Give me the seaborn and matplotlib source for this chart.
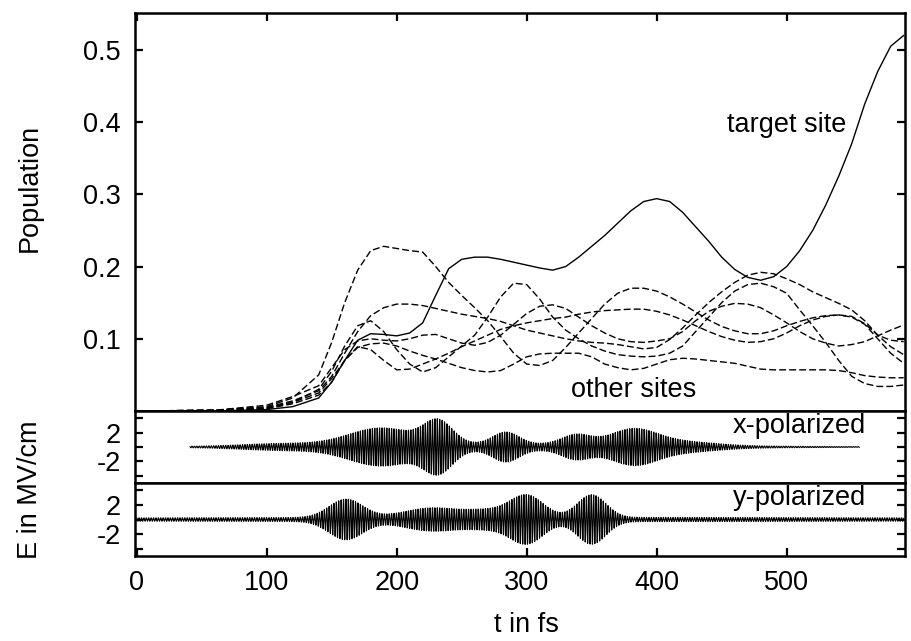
import numpy as np
import pandas as pd
import matplotlib
matplotlib.use("Agg")
import matplotlib.pyplot as plt
import seaborn as sns

# ---------------- data ----------------
t_pop = [0, 60, 100, 120, 140, 150, 160, 170, 180, 190, 200, 210, 220, 230, 240, 250,
         260, 270, 280, 290, 300, 310, 320, 330, 340, 350, 360, 370, 380, 390, 400, 410,
         420, 430, 440, 450, 460, 470, 480, 490, 500, 510, 520, 530, 540, 550, 560, 570,
         580, 590]

target_site = [0, 0.0, 0.002, 0.006, 0.018, 0.04, 0.07, 0.098, 0.107, 0.106, 0.104, 0.108,
               0.122, 0.16, 0.197, 0.21, 0.213, 0.213, 0.21, 0.206, 0.202, 0.198, 0.195, 0.2,
               0.213, 0.228, 0.243, 0.26, 0.277, 0.29, 0.294, 0.29, 0.275, 0.255, 0.235, 0.213,
               0.196, 0.185, 0.181, 0.186, 0.2, 0.222, 0.25, 0.285, 0.325, 0.37, 0.425, 0.47,
               0.505, 0.52]

site_a = [0, 0.001, 0.006, 0.018, 0.05, 0.095, 0.15, 0.195, 0.222, 0.228, 0.225, 0.222, 0.22,
          0.2, 0.178, 0.16, 0.143, 0.125, 0.103, 0.08, 0.065, 0.063, 0.07, 0.088, 0.108, 0.128,
          0.148, 0.163, 0.17, 0.17, 0.166, 0.158, 0.148, 0.137, 0.126, 0.117, 0.111, 0.107,
          0.107, 0.111, 0.118, 0.124, 0.129, 0.132, 0.133, 0.131, 0.121, 0.105, 0.089, 0.078]

site_b = [0, 0.001, 0.004, 0.012, 0.03, 0.055, 0.09, 0.118, 0.125, 0.11, 0.085, 0.065, 0.054,
          0.06, 0.075, 0.09, 0.105, 0.13, 0.158, 0.177, 0.175, 0.155, 0.13, 0.112, 0.1, 0.09,
          0.083, 0.078, 0.076, 0.075, 0.076, 0.08, 0.09, 0.11, 0.13, 0.15, 0.166, 0.175, 0.177,
          0.172, 0.163, 0.14, 0.118, 0.095, 0.07, 0.048, 0.038, 0.034, 0.034, 0.036]

site_c = [0, 0.001, 0.005, 0.014, 0.028, 0.048, 0.08, 0.11, 0.132, 0.143, 0.148, 0.148,
          0.146, 0.142, 0.138, 0.134, 0.131, 0.128, 0.124, 0.118, 0.112, 0.108, 0.104, 0.1,
          0.097, 0.095, 0.094, 0.092, 0.089, 0.086, 0.088, 0.099, 0.115, 0.133, 0.15, 0.165,
          0.178, 0.188, 0.192, 0.19, 0.183, 0.175, 0.165, 0.157, 0.149, 0.14, 0.125, 0.105,
          0.098, 0.096]

site_d = [0, 0.001, 0.008, 0.02, 0.035, 0.06, 0.085, 0.097, 0.1, 0.098, 0.097, 0.1, 0.105,
          0.106, 0.1, 0.094, 0.091, 0.095, 0.105, 0.12, 0.135, 0.145, 0.147, 0.142, 0.13,
          0.118, 0.108, 0.1, 0.096, 0.095, 0.097, 0.1, 0.11, 0.125, 0.138, 0.145, 0.149,
          0.148, 0.143, 0.133, 0.122, 0.11, 0.1, 0.094, 0.09, 0.092, 0.096, 0.104, 0.112, 0.119]

site_e = [0, 0.0, 0.003, 0.01, 0.022, 0.04, 0.07, 0.089, 0.085, 0.07, 0.057, 0.058, 0.065,
          0.072, 0.08, 0.089, 0.097, 0.105, 0.113, 0.118, 0.122, 0.125, 0.128, 0.13, 0.134,
          0.137, 0.139, 0.14, 0.141, 0.141, 0.138, 0.133, 0.126, 0.118, 0.11, 0.103, 0.098,
          0.095, 0.096, 0.1, 0.108, 0.118, 0.126, 0.131, 0.133, 0.13, 0.12, 0.1, 0.08, 0.066]

site_f = [0, 0.001, 0.004, 0.012, 0.025, 0.045, 0.07, 0.088, 0.093, 0.094, 0.09, 0.083,
          0.077, 0.072, 0.066, 0.06, 0.056, 0.054, 0.056, 0.065, 0.075, 0.079, 0.08, 0.08,
          0.08, 0.075, 0.065, 0.06, 0.057, 0.059, 0.065, 0.071, 0.073, 0.072, 0.07, 0.068,
          0.066, 0.062, 0.058, 0.057, 0.057, 0.057, 0.057, 0.057, 0.056, 0.053, 0.049, 0.047,
          0.046, 0.046]

# laser field: Gaussian sub-pulses (centre fs, width fs, amplitude MV/cm), common carrier
carrier_period = 1.85
x_pulse_center = [280, 110, 188, 232, 284, 338, 382, 420]
x_pulse_width = [130, 30, 25, 11, 10, 11, 18, 25]
x_pulse_amp = [0.45, 0.3, 2.3, 3.0, 1.65, 1.3, 2.1, 0.5]
x_time_range = [41, 556]

y_pulse_center = [300, 161, 228, 270, 300, 350]
y_pulse_width = [400, 13, 22, 15, 13, 11]
y_pulse_amp = [0.3, 2.5, 1.3, 0.8, 3.0, 3.1]
y_time_range = [0, 590]

pop_ticks = [0.1, 0.2, 0.3, 0.4, 0.5]
field_ticks = [-4, -2, 0, 2, 4]
field_labels = ["", "-2", "", "2", ""]
time_ticks = [0, 100, 200, 300, 400, 500]

# ---------------- style ----------------
FS = 19.5
sns.set_theme(style="ticks")
plt.rcParams['font.family'] = ['Liberation Sans', 'DejaVu Sans']
plt.rcParams.update({
    'axes.linewidth': 1.8,
    'axes.edgecolor': 'black',
    'xtick.direction': 'in', 'ytick.direction': 'in',
    'xtick.major.size': 5.5, 'ytick.major.size': 5.5,
    'xtick.major.width': 1.6, 'ytick.major.width': 1.6,
    'xtick.labelsize': FS, 'ytick.labelsize': FS,
    'xtick.color': 'black', 'ytick.color': 'black',
    'text.color': 'black',
})

fig = plt.figure(figsize=(9.12, 6.41), dpi=100)
W, H = 912, 641
L, R = 135, 905
ax1 = fig.add_axes([L / W, 1 - 411 / H, (R - L) / W, 398 / H])
ax2 = fig.add_axes([L / W, 1 - 483 / H, (R - L) / W, 72 / H])
ax3 = fig.add_axes([L / W, 1 - 556 / H, (R - L) / W, 73 / H])

# ---------------- populations ----------------
pop = pd.DataFrame({'t': t_pop, 'target': target_site, 'a': site_a, 'b': site_b,
                    'c': site_c, 'd': site_d, 'e': site_e, 'f': site_f})
long = pop.melt(id_vars='t', var_name='site', value_name='P')
names = ['target', 'a', 'b', 'c', 'd', 'e', 'f']
dashes = {n: (5, 2.2) for n in names}
dashes['target'] = ''
sns.lineplot(data=long, x='t', y='P', hue='site', style='site', hue_order=names,
             style_order=names, palette={n: 'black' for n in names}, dashes=dashes,
             linewidth=1.0, estimator=None, sort=False, legend=False, ax=ax1)
ax1.set_xlim(-1.3, 591)
ax1.set_ylim(0, 0.551)
ax1.set_yticks(pop_ticks)
ax1.set_yticklabels([f"{v:.1f}" for v in pop_ticks])
ax1.set_xticks(time_ticks)
ax1.tick_params(axis='x', bottom=False, top=True, labelbottom=False, labeltop=False)
ax1.tick_params(axis='y', left=True, right=True, pad=10)
ax1.set_xlabel('')
ax1.set_ylabel('')
ax1.text(500, 0.396, 'target site', fontsize=FS, ha='center', va='center')
ax1.text(382, 0.0295, 'other sites', fontsize=FS, ha='center', va='center')


# ---------------- fields ----------------
def field(t, centers, widths, amps, period):
    env = np.zeros_like(t)
    for c, w, a in zip(centers, widths, amps):
        env += a * np.exp(-0.5 * ((t - c) / w) ** 2)
    return env * np.cos(2 * np.pi * t / period)


tx = np.arange(x_time_range[0], x_time_range[1], 0.05)
ty = np.arange(y_time_range[0], y_time_range[1], 0.05)
dfx = pd.DataFrame({'t': tx, 'E': field(tx, x_pulse_center, x_pulse_width, x_pulse_amp, carrier_period)})
dfy = pd.DataFrame({'t': ty, 'E': field(ty, y_pulse_center, y_pulse_width, y_pulse_amp, carrier_period)})
sns.lineplot(data=dfx, x='t', y='E', color='black', linewidth=0.8, estimator=None, sort=False, ax=ax2)
sns.lineplot(data=dfy, x='t', y='E', color='black', linewidth=0.8, estimator=None, sort=False, ax=ax3)

for ax, lab in ((ax2, 'x-polarized'), (ax3, 'y-polarized')):
    ax.set_xlim(-1.3, 591)
    ax.set_ylim(-5, 5)
    ax.set_yticks(field_ticks)
    ax.set_yticklabels(field_labels)
    ax.tick_params(axis='y', left=True, right=True, pad=10)
    ax.set_xticks(time_ticks)
    ax.set_xlabel('')
    ax.set_ylabel('')
    ax.text(561, 2.9, lab, fontsize=FS, ha='right', va='center')

ax2.tick_params(axis='x', bottom=False, top=False, labelbottom=False)
ax3.tick_params(axis='x', bottom=True, top=False, labelbottom=True, pad=10)
ax3.set_xticklabels([str(v) for v in time_ticks])

for ax in (ax1, ax2, ax3):
    for s in ax.spines.values():
        s.set_visible(True)
        s.set_linewidth(1.8)

fig.text(30 / W, 1 - 188 / H, 'Population', rotation=90, fontsize=FS, ha='center', va='center')
fig.text(30 / W, 1 - 490 / H, 'E in MV/cm', rotation=90, fontsize=FS, ha='center', va='center')
fig.text(526 / W, 3 / H, 't in fs', fontsize=FS, ha='center', va='bottom')

fig.savefig('out.png', dpi=100, facecolor='white')
